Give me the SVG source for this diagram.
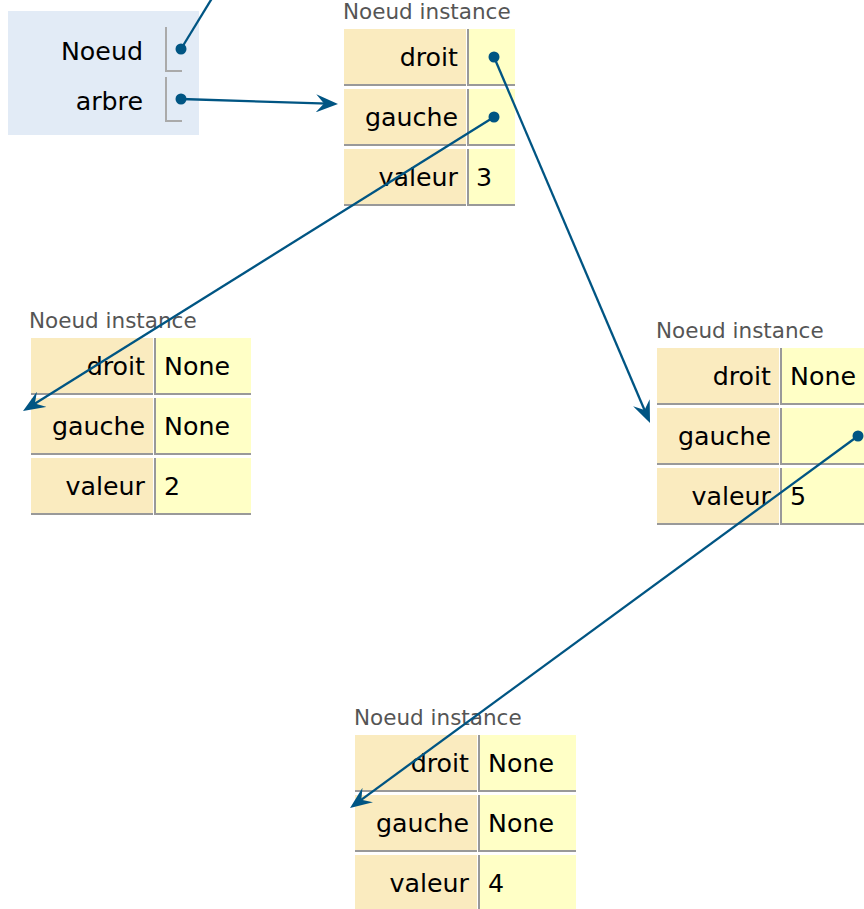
<svg xmlns="http://www.w3.org/2000/svg" width="864" height="909" viewBox="0 0 864 909">
<style>
text{font-family:"DejaVu Sans","Verdana",sans-serif}
.key{font-size:25.3px;fill:#000;text-anchor:end}
.val{font-size:25.3px;fill:#000}
.title{font-size:21.5px;fill:#555}
.kbg{fill:#faebbf}
.vbg{fill:#ffffc6}
.bd{fill:#999}
.br{fill:none;stroke:#aaa;stroke-width:2}
.conn{fill:none;stroke:#005583;stroke-width:2.3}
.dot{fill:#005583}
</style>
<defs>
<marker id="ah" viewBox="0 0 22 18" markerWidth="22" markerHeight="18" refX="12" refY="9" orient="auto" markerUnits="userSpaceOnUse">
<path d="M22,9 L0,0 L8,9 L0,18 Z" fill="#005583"/>
</marker>
</defs>
<rect width="864" height="909" fill="#fff"/>

<g id="frame">
<rect x="8" y="11" width="191" height="124" fill="#e2ebf6"/>
<text class="key" x="143" y="60">Noeud</text>
<text class="key" x="143" y="110">arbre</text>
<path class="br" d="M166,27 V71 H182"/>
<path class="br" d="M166,77 V121 H182"/>
</g>

<g id="node3">
<text class="title" x="343" y="19">Noeud instance</text>
<rect class="kbg" x="344" y="29" width="122" height="55"/><rect class="bd" x="344" y="84" width="122" height="2"/>
<rect class="bd" x="467" y="29" width="2" height="57"/><rect class="vbg" x="469" y="29" width="46" height="55"/><rect class="bd" x="469" y="84" width="46" height="2"/>
<rect class="kbg" x="344" y="89" width="122" height="55"/><rect class="bd" x="344" y="144" width="122" height="2"/>
<rect class="bd" x="467" y="89" width="2" height="57"/><rect class="vbg" x="469" y="89" width="46" height="55"/><rect class="bd" x="469" y="144" width="46" height="2"/>
<rect class="kbg" x="344" y="149" width="122" height="55"/><rect class="bd" x="344" y="204" width="122" height="2"/>
<rect class="bd" x="467" y="149" width="2" height="57"/><rect class="vbg" x="469" y="149" width="46" height="55"/><rect class="bd" x="469" y="204" width="46" height="2"/>
<text class="key" x="458" y="66">droit</text>
<text class="key" x="458" y="126">gauche</text>
<text class="key" x="458" y="186">valeur</text>
<text class="val" x="476" y="186">3</text>
</g>

<g id="node2">
<text class="title" x="29" y="328">Noeud instance</text>
<rect class="kbg" x="31" y="338" width="122" height="55"/><rect class="bd" x="31" y="393" width="122" height="2"/>
<rect class="bd" x="154" y="338" width="2" height="57"/><rect class="vbg" x="156" y="338" width="95" height="55"/><rect class="bd" x="156" y="393" width="95" height="2"/>
<rect class="kbg" x="31" y="398" width="122" height="55"/><rect class="bd" x="31" y="453" width="122" height="2"/>
<rect class="bd" x="154" y="398" width="2" height="57"/><rect class="vbg" x="156" y="398" width="95" height="55"/><rect class="bd" x="156" y="453" width="95" height="2"/>
<rect class="kbg" x="31" y="458" width="122" height="55"/><rect class="bd" x="31" y="513" width="122" height="2"/>
<rect class="bd" x="154" y="458" width="2" height="57"/><rect class="vbg" x="156" y="458" width="95" height="55"/><rect class="bd" x="156" y="513" width="95" height="2"/>
<text class="key" x="145" y="375">droit</text>
<text class="key" x="145" y="435">gauche</text>
<text class="key" x="145" y="495">valeur</text>
<text class="val" x="164" y="375">None</text>
<text class="val" x="164" y="435">None</text>
<text class="val" x="164" y="495">2</text>
</g>

<g id="node5">
<text class="title" x="656" y="338">Noeud instance</text>
<rect class="kbg" x="657" y="348" width="122" height="55"/><rect class="bd" x="657" y="403" width="122" height="2"/>
<rect class="bd" x="780" y="348" width="2" height="57"/><rect class="vbg" x="782" y="348" width="95" height="55"/><rect class="bd" x="782" y="403" width="95" height="2"/>
<rect class="kbg" x="657" y="408" width="122" height="55"/><rect class="bd" x="657" y="463" width="122" height="2"/>
<rect class="bd" x="780" y="408" width="2" height="57"/><rect class="vbg" x="782" y="408" width="95" height="55"/><rect class="bd" x="782" y="463" width="95" height="2"/>
<rect class="kbg" x="657" y="468" width="122" height="55"/><rect class="bd" x="657" y="523" width="122" height="2"/>
<rect class="bd" x="780" y="468" width="2" height="57"/><rect class="vbg" x="782" y="468" width="95" height="55"/><rect class="bd" x="782" y="523" width="95" height="2"/>
<text class="key" x="771" y="385">droit</text>
<text class="key" x="771" y="445">gauche</text>
<text class="key" x="771" y="505">valeur</text>
<text class="val" x="790" y="385">None</text>
<text class="val" x="790" y="505">5</text>
</g>

<g id="node4">
<text class="title" x="354" y="725">Noeud instance</text>
<rect class="kbg" x="355" y="735" width="122" height="55"/><rect class="bd" x="355" y="790" width="122" height="2"/>
<rect class="bd" x="478" y="735" width="2" height="57"/><rect class="vbg" x="480" y="735" width="96" height="55"/><rect class="bd" x="480" y="790" width="96" height="2"/>
<rect class="kbg" x="355" y="795" width="122" height="55"/><rect class="bd" x="355" y="850" width="122" height="2"/>
<rect class="bd" x="478" y="795" width="2" height="57"/><rect class="vbg" x="480" y="795" width="96" height="55"/><rect class="bd" x="480" y="850" width="96" height="2"/>
<rect class="kbg" x="355" y="855" width="122" height="55"/><rect class="bd" x="355" y="910" width="122" height="2"/>
<rect class="bd" x="478" y="855" width="2" height="57"/><rect class="vbg" x="480" y="855" width="96" height="55"/><rect class="bd" x="480" y="910" width="96" height="2"/>
<text class="key" x="469" y="772">droit</text>
<text class="key" x="469" y="832">gauche</text>
<text class="key" x="469" y="892">valeur</text>
<text class="val" x="488" y="772">None</text>
<text class="val" x="488" y="832">None</text>
<text class="val" x="488" y="892">4</text>
</g>

<g id="connectors">
<circle class="dot" cx="181" cy="49" r="5.5"/>
<line class="conn" x1="181" y1="49" x2="214" y2="-5"/>
<circle class="dot" cx="181" cy="99" r="5.5"/>
<line class="conn" x1="181" y1="99" x2="328" y2="103.7" marker-end="url(#ah)"/>
<circle class="dot" cx="494" cy="57" r="5.5"/>
<line class="conn" x1="494" y1="57" x2="646.1" y2="413.8" marker-end="url(#ah)"/>
<circle class="dot" cx="494" cy="117" r="5.5"/>
<line class="conn" x1="494" y1="117" x2="31.5" y2="405.7" marker-end="url(#ah)"/>
<circle class="dot" cx="858" cy="436" r="5.5"/>
<line class="conn" x1="858" y1="436" x2="358.1" y2="802.1" marker-end="url(#ah)"/>
</g>
</svg>
